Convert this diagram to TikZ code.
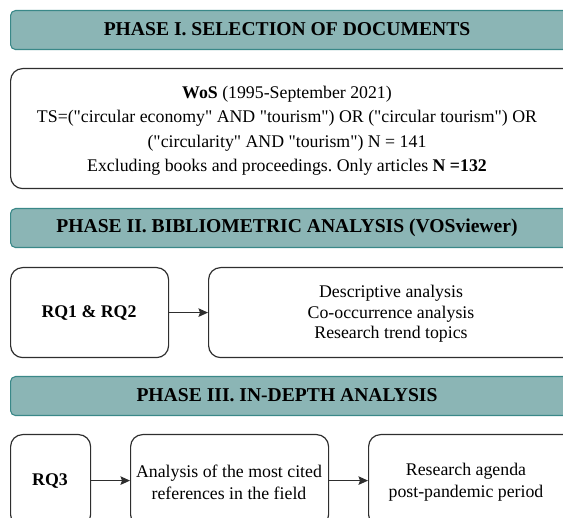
\documentclass[tikz,border=0pt]{standalone}
\usepackage{fontspec}
\setmainfont{Liberation Serif}[Ligatures=TeXOff]
\usetikzlibrary{arrows.meta}
\definecolor{bannerfill}{HTML}{8BB5B5}
\definecolor{bannerdraw}{HTML}{3A8888}
\definecolor{boxdraw}{HTML}{2E2E2E}
\frenchspacing
\begin{document}
\begin{tikzpicture}[x=1pt,y=-1pt,
  banner/.style={draw=bannerdraw, fill=bannerfill, line width=1.1pt, rounded corners=5pt,
    anchor=north west, inner sep=0pt, minimum height=39pt},
  bantext/.style={font=\fontsize{19.6}{22}\selectfont\bfseries, text=black},
  box/.style={draw=boxdraw, line width=1.2pt, rounded corners=12pt, anchor=north west,
    inner sep=0pt},
  boxtext/.style={align=center, font=\fontsize{17.8}{21}\selectfont},
  conn/.style={draw=boxdraw, line width=1.2pt, -{Stealth[length=9.5pt,width=8.5pt,inset=1.5pt]}}]
\useasboundingbox (0,0) rectangle (563,518);
\clip (0,0) rectangle (563,518);
% Phase I
\node[banner, minimum width=575pt] (p1) at (10,10) {};
\node[bantext] (p1t) at (287,29.5) {PHASE I. SELECTION OF DOCUMENTS};
\node[box, minimum width=575pt, minimum height=120pt] (b1) at (10,68) {};
\node[boxtext, font=\fontsize{17.8}{24.5}\selectfont] (b1t) at (287,130.5)
  {\textbf{WoS} (1995-September 2021)\\
   TS=("circular economy" AND "tourism") OR ("circular tourism") OR\\
   ("circularity" AND "tourism") N = 141\\
   Excluding books and proceedings. Only articles \textbf{N =132}};
% Phase II
\node[banner, minimum width=575pt] (p2) at (10,208) {};
\node[bantext] (p2t) at (287,227.5) {PHASE II. BIBLIOMETRIC ANALYSIS (VOSviewer)};
\node[box, minimum width=158pt, minimum height=90pt] (rq12) at (10,267) {};
\node[boxtext, font=\fontsize{17.8}{21}\selectfont\bfseries] (rq12t) at (89,313) {RQ1 \& RQ2};
\node[box, minimum width=370pt, minimum height=90pt] (desc) at (208,267) {};
\node[boxtext, font=\fontsize{17.8}{20.5}\selectfont] (desct) at (391,314)
  {Descriptive analysis\\Co-occurrence analysis\\Research trend topics};
\draw[conn] (rq12.east) -- (desc.west);
% Phase III
\node[banner, minimum width=575pt] (p3) at (10,376) {};
\node[bantext] (p3t) at (287,395.5) {PHASE III. IN-DEPTH ANALYSIS};
\node[box, minimum width=80pt, minimum height=92pt] (rq3) at (10,434) {};
\node[boxtext, font=\fontsize{17.8}{21}\selectfont\bfseries] (rq3t) at (50,481) {RQ3};
\node[box, minimum width=198pt, minimum height=92pt] (cited) at (130,434) {};
\node[boxtext, font=\fontsize{17.8}{22}\selectfont] (citedt) at (229,482)
  {Analysis of the most cited\\references in the field};
\node[box, minimum width=210pt, minimum height=92pt] (agenda) at (368,434) {};
\node[boxtext, font=\fontsize{17.8}{22}\selectfont] (agendat) at (466,482)
  {Research agenda\\post-pandemic period};
\draw[conn] (rq3.east) -- (cited.west);
\draw[conn] (cited.east) -- (agenda.west);
\end{tikzpicture}
\end{document}
